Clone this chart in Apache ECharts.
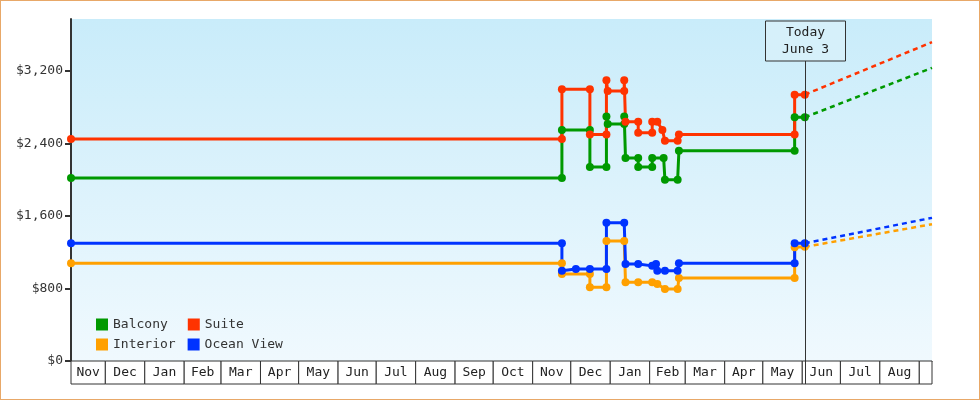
<!DOCTYPE html>
<html><head><meta charset="utf-8">
<script src="https://cdn.jsdelivr.net/npm/echarts@6/dist/echarts.min.js"></script>
<style>html,body{margin:0;padding:0;background:#fff}#c{width:978px;height:398px;border:1px solid #e8a868}</style>
</head><body><div id="c"></div>
<script>
const seriesNames = ['Balcony','Suite','Interior','Ocean View'];
const balcony = [['2023-11-04',2020],['2024-11-24',2020],['2024-11-24',2550],['2024-12-16',2550],['2024-12-16',2140],['2024-12-29',2140],['2024-12-29',2700],['2024-12-30',2615],['2025-01-12',2615],['2025-01-12',2700],['2025-01-13',2240],['2025-01-23',2240],['2025-01-23',2140],['2025-02-03',2140],['2025-02-03',2240],['2025-02-12',2240],['2025-02-13',2000],['2025-02-23',2000],['2025-02-24',2320],['2025-05-26',2320],['2025-05-26',2690],['2025-06-03',2690]];
const suite = [['2023-11-04',2450],['2024-11-24',2450],['2024-11-24',3000],['2024-12-16',3000],['2024-12-16',2500],['2024-12-29',2500],['2024-12-29',3100],['2024-12-30',2980],['2025-01-12',2980],['2025-01-12',3100],['2025-01-13',2640],['2025-01-23',2640],['2025-01-23',2520],['2025-02-03',2520],['2025-02-03',2640],['2025-02-07',2640],['2025-02-11',2550],['2025-02-13',2430],['2025-02-23',2430],['2025-02-24',2500],['2025-05-26',2500],['2025-05-26',2940],['2025-06-03',2940]];
const interior = [['2023-11-04',1080],['2024-11-24',1080],['2024-11-24',960],['2024-12-16',960],['2024-12-16',815],['2024-12-29',815],['2024-12-29',1325],['2025-01-12',1325],['2025-01-13',870],['2025-01-23',870],['2025-02-03',870],['2025-02-07',850],['2025-02-13',795],['2025-02-23',795],['2025-02-24',915],['2025-05-26',915],['2025-05-26',1255],['2025-06-03',1260]];
const oceanView = [['2023-11-04',1300],['2024-11-24',1300],['2024-11-24',995],['2024-12-05',1015],['2024-12-16',1015],['2024-12-29',1015],['2024-12-29',1525],['2025-01-12',1525],['2025-01-13',1070],['2025-01-23',1070],['2025-02-03',1050],['2025-02-06',1070],['2025-02-07',995],['2025-02-13',995],['2025-02-23',995],['2025-02-24',1080],['2025-05-26',1080],['2025-05-26',1300],['2025-06-03',1300]];
const projEnd = '2025-09-11';
const projections = {Balcony:3235, Suite:3520, Interior:1510, 'Ocean View':1580};
const monthLabels = ['Nov','Dec','Jan','Feb','Mar','Apr','May','Jun','Jul','Aug','Sep','Oct','Nov','Dec','Jan','Feb','Mar','Apr','May','Jun','Jul','Aug',''];
const yTicks = [0,800,1600,2400,3200];
const today = '2025-06-03';
const todayLabel = ['Today','June 3'];

const colors = {Balcony:'#009900', Suite:'#ff3300', Interior:'#ffa000', 'Ocean View':'#0033ff'};
const dataMap = {Balcony:balcony, Suite:suite, Interior:interior, 'Ocean View':oceanView};
const xMin = +new Date('2023-11-04'), xMax = +new Date(projEnd);
const FONT = 'DejaVu Sans Mono';

const months = [];
let d = new Date(2023,10,1);
for (let i=0;i<monthLabels.length;i++){
  const s = Math.max(+d, xMin);
  const n = new Date(d.getFullYear(), d.getMonth()+1, 1);
  months.push([s, Math.min(+n, xMax), 0, monthLabels[i]]);
  d = n;
}

const series = [];
seriesNames.forEach(n=>{
  const data = dataMap[n].map(p=>[+new Date(p[0]), p[1]]);
  series.push({name:n, type:'line', data, symbol:'circle', symbolSize:8, showSymbol:true,
    lineStyle:{width:3,color:colors[n]}, itemStyle:{color:colors[n]}, z:5, animation:false});
  const last = data[data.length-1];
  series.push({name:n, type:'line', data:[last,[+new Date(projEnd), projections[n]]], symbol:'none',
    lineStyle:{width:2.5,type:[5,4],color:colors[n]}, z:4, animation:false});
});
series.push({type:'custom', clip:false, silent:true, encode:{x:[0,1],y:2}, data:months, z:1, animation:false,
  renderItem:(p,api)=>{
    const a = api.coord([api.value(0),0]), b = api.coord([api.value(1),0]);
    return {type:'group', children:[
      {type:'rect', shape:{x:a[0],y:a[1],width:b[0]-a[0],height:23}, style:{fill:'#fff',stroke:'#333',lineWidth:1}},
      {type:'text', x:(a[0]+b[0])/2, y:a[1]+12, style:{text:months[p.dataIndex][3], font:'13px '+FONT, fill:'#222', align:'center', verticalAlign:'middle'}}
    ]};
  }});
series.push({type:'custom', clip:false, silent:true, encode:{x:0,y:1}, data:[[+new Date(today),0]], z:6, animation:false,
  renderItem:(p,api)=>{
    const a = api.coord([api.value(0),0]);
    const x = Math.round(a[0])+0.5;
    return {type:'group', children:[
      {type:'line', shape:{x1:x,y1:60,x2:x,y2:a[1]+23}, style:{stroke:'#333',lineWidth:1}},
      {type:'rect', shape:{x:x-40,y:20,width:80,height:40}, style:{fill:'#d6f0fa',stroke:'#333',lineWidth:1}},
      {type:'text', x:x, y:40, style:{text:todayLabel.join('\n'), font:'13px '+FONT, lineHeight:17, fill:'#222', align:'center', verticalAlign:'middle'}}
    ]};
  }});

const chart = echarts.init(document.getElementById('c'));
chart.setOption({
  animation:false,
  grid:{left:70, top:18, right:47, bottom:38, show:true, borderWidth:0,
    backgroundColor:{type:'linear',x:0,y:0,x2:0,y2:1,colorStops:[{offset:0,color:'#c9ecfa'},{offset:1,color:'#f0f9fe'}]}},
  xAxis:{type:'time', min:xMin, max:xMax, axisLabel:{show:false}, axisTick:{show:false}, splitLine:{show:false},
    axisLine:{show:true,lineStyle:{color:'#333',width:1}}},
  yAxis:{type:'value', min:0, max:3775, interval:800, splitLine:{show:false},
    axisLine:{show:true,lineStyle:{color:'#333',width:2}},
    axisTick:{show:true,length:6,lineStyle:{color:'#333',width:2}},
    axisLabel:{showMaxLabel:false, fontFamily:FONT, fontSize:13, color:'#333',
      formatter:v=> yTicks.includes(v) ? '$'+v.toLocaleString('en-US') : ''}},
  legend:[
    {data:['Balcony','Suite'], left:90, top:312, itemWidth:12, itemHeight:12, itemGap:20, icon:'rect',
      textStyle:{fontFamily:FONT,fontSize:13,color:'#333'}},
    {data:['Interior','Ocean View'], left:90, top:332, itemWidth:12, itemHeight:12, itemGap:12, icon:'rect',
      textStyle:{fontFamily:FONT,fontSize:13,color:'#333'}}
  ],
  series
});
</script></body></html>
